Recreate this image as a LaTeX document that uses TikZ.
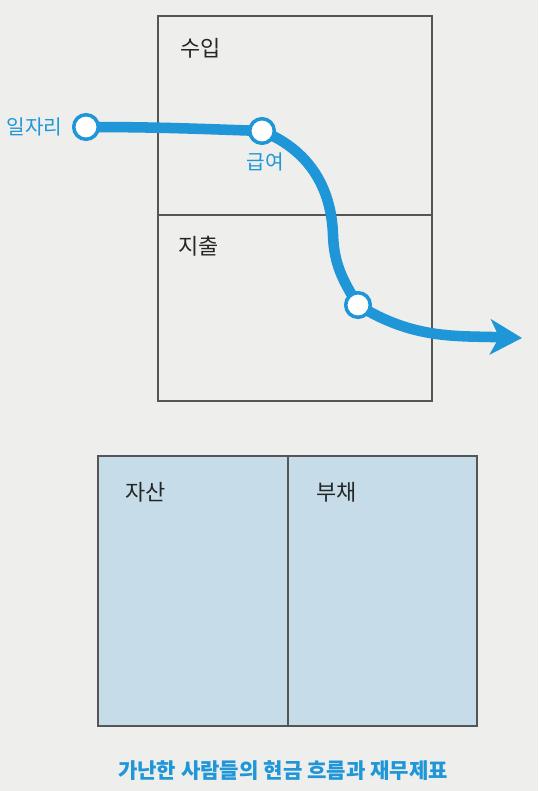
\documentclass[tikz,border=0pt]{standalone}
\usepackage{fontspec}
\setmainfont{Noto Sans CJK KR}
\usepackage{xcolor}
\usepackage{tikz}
\usetikzlibrary{arrows.meta, positioning, calc, backgrounds}

\definecolor{flowblue}{RGB}{30,150,215}
\definecolor{sheetblue}{RGB}{198,221,233}
\definecolor{framegray}{RGB}{85,85,85}
\definecolor{paper}{RGB}{238,238,236}

\begin{document}
\begin{tikzpicture}[x=0.02cm, y=0.02cm,
  frame/.style={draw=framegray, line width=1pt},
  stop/.style={circle, draw=flowblue, fill=white, line width=2pt, minimum size=14pt, inner sep=0pt},
  flow/.style={draw=flowblue, line width=6pt, -{Stealth[length=18pt, width=20pt, inset=5pt]}},
  boxlabel/.style={font=\fontsize{12.5}{14}\selectfont, text=black!85, anchor=west},
  flowlabel/.style={font=\fontsize{11.5}{13}\selectfont, text=flowblue}]
  % Stops on the cash flow
  \node[stop] (job) at (86,-127) {};
  \node[stop] (pay) at (262,-131) {};
  \node[stop] (spend) at (358,-305) {};
  \coordinate (bend) at (333,-235);
  \coordinate (out) at (522,-338);

  \begin{scope}[on background layer]
    % Page
    \fill[paper] (0,0) rectangle (538,-791);

    % Income statement
    \draw[frame] (158,-16) rectangle (432,-401);
    \draw[frame] (158,-215) -- (432,-215);

    % Balance sheet
    \draw[frame, fill=sheetblue] (98,-456) rectangle (477,-726);
    \draw[frame] (288,-456) -- (288,-726);

    % Cash flow
    \draw[flow] (job.center) to[out=0, in=178] (pay.center)
      to[out=-22, in=92] (bend)
      to[out=-88, in=122] (spend.center)
      to[out=-32, in=178] (out);
  \end{scope}

  % Labels
  \node[boxlabel] (income) at (174,-48) {수입};
  \node[boxlabel] (expense) at (172,-246) {지출};
  \node[boxlabel] (asset) at (119,-492) {자산};
  \node[boxlabel] (debt) at (310,-492) {부채};

  \node[flowlabel, left=2pt of job] (joblabel) {일자리};
  \node[flowlabel] (paylabel) at (265,-162) {급여};

  % Caption
  \node[font=\fontsize{12}{14}\selectfont\bfseries, text=flowblue] (caption) at (283,-771) {가난한 사람들의 현금 흐름과 재무제표};
\end{tikzpicture}
\end{document}
